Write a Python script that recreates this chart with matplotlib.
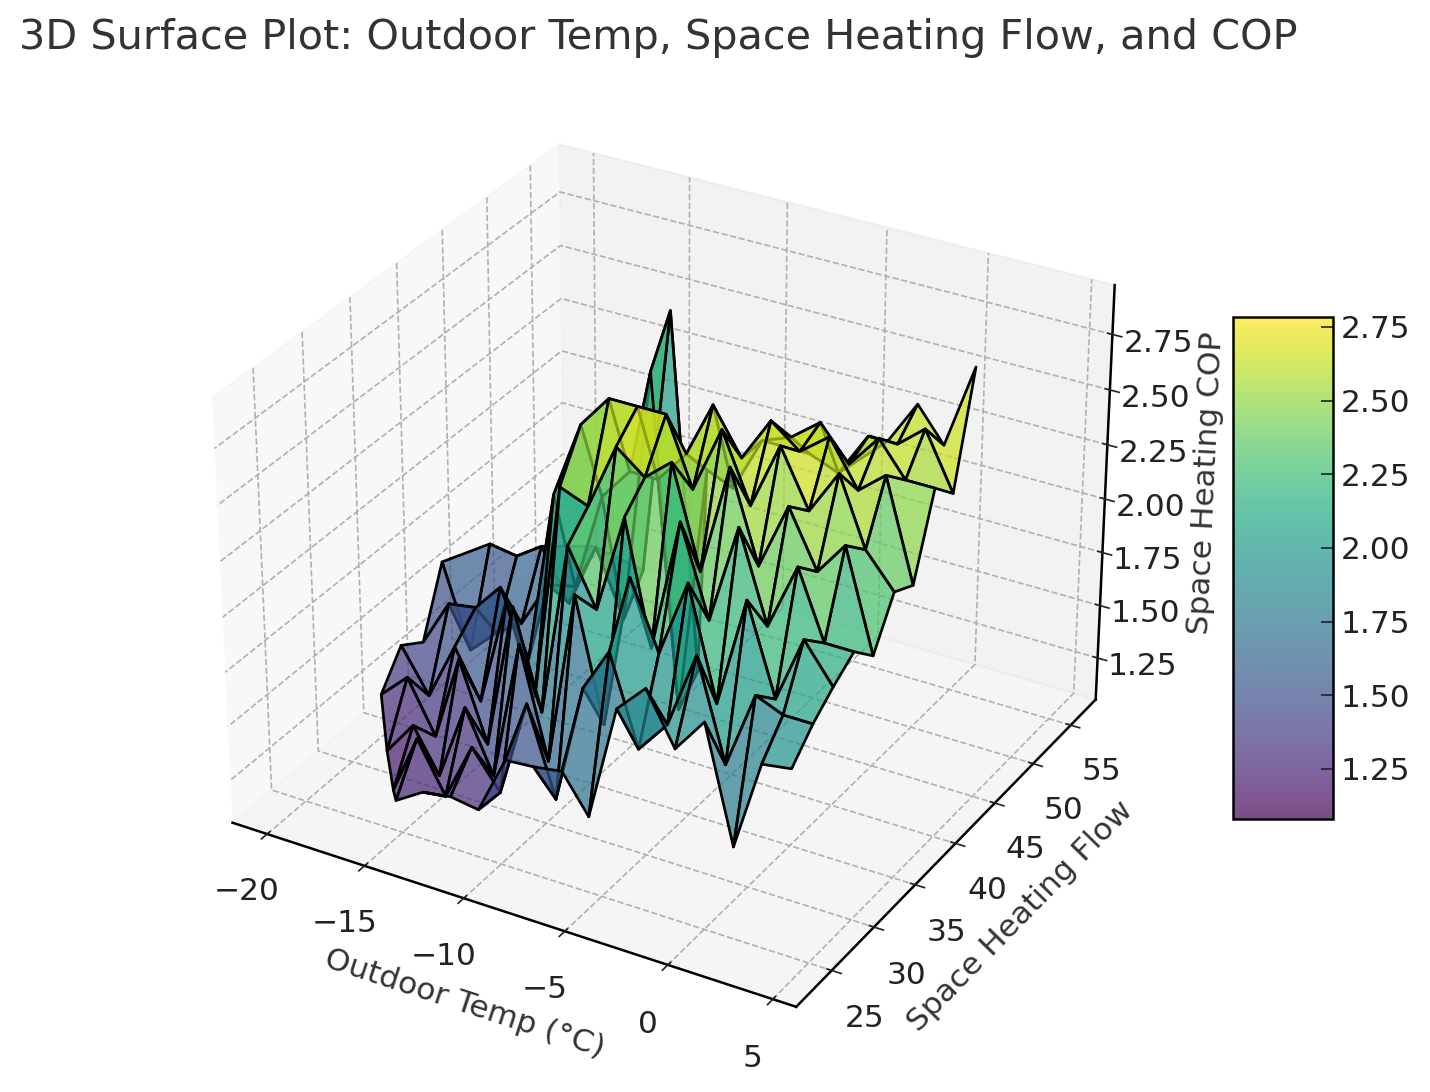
import numpy as np
import matplotlib
matplotlib.use("Agg")
import matplotlib.pyplot as plt

n = np.nan

outdoor_temp = [-19.5, -18.1, -16.7, -15.4, -14.0, -12.6, -11.2, -9.8, -8.4, -7.0,
                -5.7, -4.3, -2.9, -1.5, -0.1, 1.3, 2.6, 4.0]
heating_flow = [25.2, 27.6, 29.9, 32.3, 34.6, 37.0, 39.3, 41.7, 44.0, 46.4]

# one row per outdoor temp, one column per flow, nan where there is no surface
cop = [
    [n, n, n, 1.30, 1.45, 1.38, 1.68, n, n, n],
    [n, n, 1.16, 1.42, 1.25, 1.60, 1.30, 1.72, n, n],
    [n, 1.10, 1.32, 1.18, 1.52, 1.62, 1.42, 1.70, n, n],
    [1.18, 1.38, 1.12, 1.58, 1.30, 1.75, 1.50, 1.78, n, n],
    [1.26, 1.15, 1.48, 1.22, 1.80, 1.45, 1.72, 1.55, 1.74, n],
    [1.28, 1.42, 1.20, 1.90, 1.40, 2.25, 1.75, 1.85, n, n],
    [1.26, 1.25, 1.85, 1.45, 2.40, 2.60, 2.20, 1.55, 1.70, n],
    [1.53, 1.70, 1.35, 2.25, 2.35, 2.75, 2.35, 2.72, 2.92, n],
    [1.54, 1.30, 2.15, 2.00, 2.65, 2.75, 2.35, 1.20, 1.30, n],
    [1.56, 1.85, 1.60, 2.45, 2.55, 2.75, 2.50, 2.35, n, n],
    [1.39, 2.05, 2.30, 1.90, 2.65, 2.45, 2.75, 2.30, n, n],
    [1.92, 1.65, 2.00, 2.50, 2.20, 2.75, 2.55, 2.55, n, n],
    [2.05, 1.80, 2.35, 2.10, 2.70, 2.45, 2.75, 2.60, 2.45, n],
    [1.82, 2.15, 1.85, 2.55, 2.30, 2.75, 2.65, 2.70, 2.40, n],
    [1.98, 1.70, 2.35, 2.15, 2.60, 2.50, 2.75, 2.55, 2.60, 2.50],
    [1.46, 2.05, 1.95, 2.45, 2.35, 2.70, 2.55, 2.70, 2.60, 2.70],
    [1.87, 2.00, 2.25, 2.15, 2.50, 2.40, 2.65, 2.55, 2.70, 2.55],
    [1.89, 2.00, 2.08, 2.15, 2.05, 2.25, 2.20, 2.55, 2.45, 2.93],
]

cbar_ticks = [1.25, 1.5, 1.75, 2.0, 2.25, 2.5, 2.75]

plt.rcParams["font.family"] = "DejaVu Sans"
plt.rcParams["grid.linestyle"] = "--"
plt.rcParams["grid.color"] = "#b0b0b0"
plt.rcParams["grid.linewidth"] = 0.8
plt.rcParams["axes.linewidth"] = 1.2

fig = plt.figure(figsize=(1430 / 150, 1092 / 150), dpi=150)
ax = fig.add_axes([0.027, 0.02, 0.867, 0.919], projection="3d")

X, Y = np.meshgrid(outdoor_temp, heating_flow, indexing="ij")
Z = np.array(cop)
surf = ax.plot_surface(X, Y, Z, cmap="viridis", edgecolor="k", linewidth=1.3, alpha=0.7,
                       rstride=1, cstride=1, vmin=1.08, vmax=2.785)

ax.set_xlim(-21.8, 6.1)
ax.set_ylim(20.9, 58.4)
ax.set_zlim(1.05, 2.97)
ax.set_xticks([-20, -15, -10, -5, 0, 5])
ax.set_yticks([25, 30, 35, 40, 45, 50, 55])
ax.set_zticks(cbar_ticks)
ax.tick_params(labelsize=15, colors="#222222")
ax.tick_params(axis="x", pad=7)
ax.tick_params(axis="y", pad=6)
ax.tick_params(axis="z", pad=5.5)
ax.set_xlabel("Outdoor Temp (°C)", fontsize=15, color="#333333", labelpad=10)
ax.set_ylabel("Space Heating Flow", fontsize=15, color="#333333", labelpad=9)
ax.set_zlabel("Space Heating COP", fontsize=15, color="#333333", labelpad=9)

fig.text(0.013, 0.965, "3D Surface Plot: Outdoor Temp, Space Heating Flow, and COP",
         fontsize=19.85, color="#333333", va="center", ha="left")

cax = fig.add_axes([0.8625, 0.25, 0.07, 0.46])
cbar = fig.colorbar(surf, cax=cax, ticks=cbar_ticks)
cbar.ax.tick_params(labelsize=15, direction="in", length=6, colors="#222222")

fig.savefig("out.png", dpi=150)
